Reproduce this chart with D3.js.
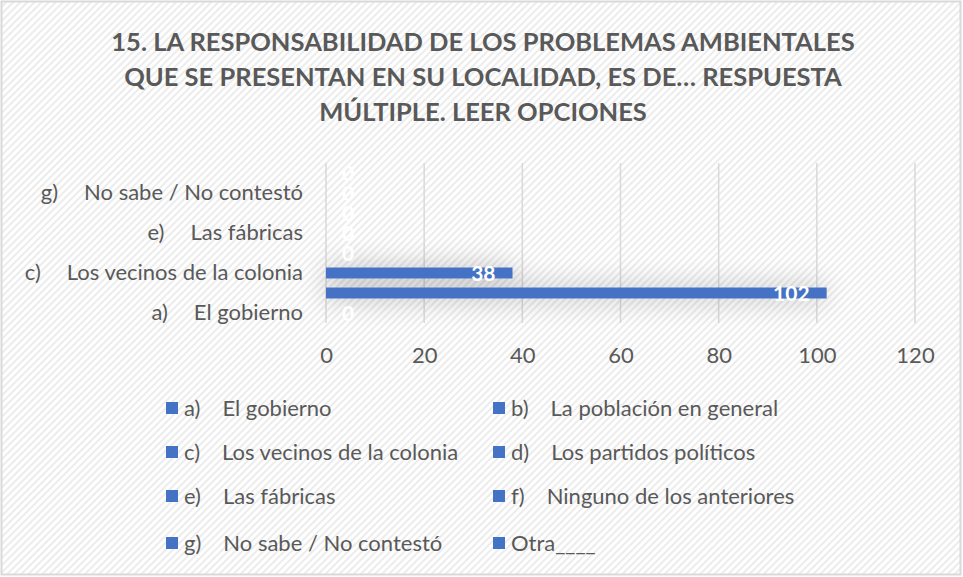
<!DOCTYPE html>
<html>
<head>
<meta charset="utf-8">
<script src="https://cdn.jsdelivr.net/npm/d3@7"></script>
<style>
	html, body { margin: 0; padding: 0; background: #fff; }
	svg { display: block; font-family: Lato, "Open Sans", sans-serif; }
</style>
</head>
<body>
<svg id="chart" width="963" height="577"></svg>
<script>
// categories (code + text), bottom to top
var catCodes = ["a)", "b)", "c)", "d)", "e)", "f)", "g)", ""];
var catNames = ["El gobierno", "La población en general", "Los vecinos de la colonia", "Los partidos políticos",
	"Las fábricas", "Ninguno de los anteriores", "No sabe / No contestó", "Otra____"];
var values = [0, 102, 38, 0, 0, 0, 0, 0];
var xTicks = [0, 20, 40, 60, 80, 100, 120];
var titleLines = ["15. LA RESPONSABILIDAD DE LOS PROBLEMAS AMBIENTALES",
	"QUE SE PRESENTAN EN SU LOCALIDAD, ES DE… RESPUESTA",
	"MÚLTIPLE. LEER OPCIONES"];

var W = 963, H = 577;
var blue = "#4472c4", grey = "#595959";
var plot = {left: 326, right: 915, top: 163, bottom: 323};

var svg = d3.select("#chart");
var defs = svg.append("defs");

// diagonal hatch background
var pat = defs.append("pattern")
	.attr("id", "hatch").attr("width", 5).attr("height", 5)
	.attr("patternUnits", "userSpaceOnUse")
	.attr("patternTransform", "rotate(45)");
pat.append("rect").attr("width", 5).attr("height", 5).attr("fill", "#fff");
pat.append("rect").attr("width", 2).attr("height", 5).attr("fill", "#ececec");

var sh = defs.append("filter").attr("id", "shade")
	.attr("x", "-20%").attr("y", "-300%").attr("width", "140%").attr("height", "700%");
sh.append("feGaussianBlur").attr("in", "SourceAlpha").attr("stdDeviation", 14).attr("result", "b");
sh.append("feComponentTransfer").attr("in", "b").attr("result", "s")
	.append("feFuncA").attr("type", "linear").attr("slope", 0.3);
var mg = sh.append("feMerge");
mg.append("feMergeNode").attr("in", "s");
mg.append("feMergeNode").attr("in", "SourceGraphic");

svg.append("rect").attr("x", 1.5).attr("y", 1.5).attr("width", W - 4).attr("height", H - 4)
	.attr("fill", "url(#hatch)").attr("stroke", "#d9d9d9").attr("stroke-width", 2);

// title
svg.append("g").selectAll("text").data(titleLines).enter()
	.append("text")
	.attr("x", 483).attr("y", function(d, i) { return 51 + i * 35; })
	.attr("text-anchor", "middle")
	.attr("font-size", 25.5).attr("font-weight", "bold").attr("fill", grey)
	.text(function(d) { return d; });

var x = d3.scaleLinear().domain([0, 120]).range([plot.left, plot.right]);
var y = d3.scaleBand().domain(d3.range(values.length))
	.range([plot.bottom, plot.top]).paddingInner(0.45).paddingOuter(0.225);

// gridlines
svg.append("g").selectAll("line").data(xTicks).enter()
	.append("line")
	.attr("x1", function(d) { return x(d); }).attr("x2", function(d) { return x(d); })
	.attr("y1", plot.top).attr("y2", plot.bottom)
	.attr("stroke", "#d9d9d9").attr("stroke-width", 1.5);

// bars
svg.append("g").attr("filter", "url(#shade)").selectAll("rect").data(values).enter()
	.append("rect")
	.attr("x", x(0))
	.attr("y", function(d, i) { return y(i); })
	.attr("width", function(d) { return x(d) - x(0); })
	.attr("height", y.bandwidth())
	.attr("fill", blue);

// x axis labels
var xAxis = d3.axisBottom(x).tickValues(xTicks).tickSize(0).tickPadding(0);
var gx = svg.append("g").attr("transform", "translate(0," + (plot.bottom + 40) + ")").call(xAxis);
gx.select(".domain").remove();
gx.selectAll("text").attr("font-size", 22).attr("fill", grey).attr("font-family", "Lato, sans-serif").attr("dy", 0);

// category labels (every other one)
var gy = svg.append("g");
var shown = d3.range(values.length).filter(function(i) { return i % 2 === 0; });
shown.forEach(function(i) {
	var cy = y(i) + y.bandwidth() / 2 + 7;
	var t = gy.append("text").attr("x", 303).attr("y", cy)
		.attr("text-anchor", "end").attr("font-size", 22).attr("fill", grey);
	t.append("tspan").text(catCodes[i]);
	t.append("tspan").attr("dx", 26).text(catNames[i]);
});

// data labels
svg.append("g").selectAll("text").data(values).enter()
	.append("text")
	.attr("x", function(d) { return d > 0 ? x(d) - 17 : x(0) + 22; })
	.attr("y", function(d, i) { return y(i) + y.bandwidth() / 2 + 8; })
	.attr("text-anchor", function(d) { return d > 0 ? "end" : "middle"; })
	.attr("font-size", 21).attr("font-weight", "bold").attr("fill", "#fff")
	.text(function(d) { return d; });

// legend
var lg = svg.append("g");
var rowsY = [408, 452, 496, 543];
values.forEach(function(v, i) {
	var col = i % 2, row = Math.floor(i / 2);
	var lx = col === 0 ? 166 : 493, ly = rowsY[row];
	lg.append("rect").attr("x", lx).attr("y", ly - 6).attr("width", 12).attr("height", 12).attr("fill", blue);
	var t = lg.append("text").attr("x", lx + 18).attr("y", ly + 8).attr("font-size", 22).attr("fill", grey);
	if (catCodes[i]) {
		t.append("tspan").text(catCodes[i]);
		t.append("tspan").attr("dx", 22).text(catNames[i]);
	} else {
		t.text(catNames[i]);
	}
});
</script>
</body>
</html>
